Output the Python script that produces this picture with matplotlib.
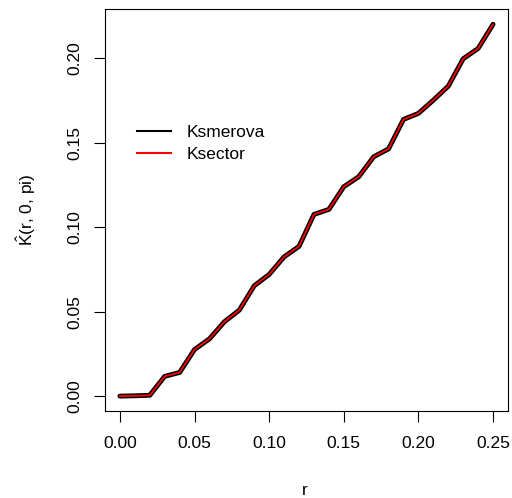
import matplotlib
matplotlib.use('Agg')
import matplotlib.pyplot as plt
from matplotlib.lines import Line2D
import numpy as np

plt.rcParams['font.family'] = ['Liberation Sans', 'DejaVu Sans']
plt.rcParams['mathtext.fontset'] = 'custom'
plt.rcParams['mathtext.rm'] = 'Liberation Sans'
plt.rcParams['mathtext.it'] = 'Liberation Sans'

# r values and estimated K(r, 0, pi)
r = np.round(np.arange(0, 0.2501, 0.01), 2)
k_smerova = [0.0, 0.0002, 0.0005, 0.0117, 0.014, 0.0276, 0.0339, 0.044, 0.0509,
             0.0653, 0.072, 0.0824, 0.0886, 0.1075, 0.1105, 0.1239, 0.1298,
             0.1416, 0.1463, 0.1637, 0.1673, 0.1751, 0.1834, 0.1996, 0.2057, 0.220]
k_sector = list(k_smerova)

xticks = [0.00, 0.05, 0.10, 0.15, 0.20, 0.25]
yticks = [0.00, 0.05, 0.10, 0.15, 0.20]

fig = plt.figure(figsize=(5.12, 4.98), dpi=100)
ax = fig.add_axes([105/512, 87/498, 403/512, 401.6/498])

ax.plot(r, k_smerova, color='black', lw=3.5, solid_capstyle='round', solid_joinstyle='round')
ax.plot(r, k_sector, color='red', lw=1.3, solid_joinstyle='round')

ax.set_xlim(-0.01, 0.26)
ax.set_ylim(-0.0088, 0.2288)
ax.set_xticks(xticks)
ax.set_xticklabels([f'{v:.2f}' for v in xticks])
ax.set_yticks(yticks)
ax.set_yticklabels([f'{v:.2f}' for v in yticks], rotation=90, va='center')
ax.tick_params(direction='out', length=8, width=0.8, labelsize=12.5)
ax.tick_params(axis='x', pad=10)
ax.tick_params(axis='y', pad=8)
for s in ax.spines.values():
    s.set_linewidth(0.8)

# axis titles placed like R's margin text
fig.text(305/512, 1 - 495/498, 'r', fontsize=12.5, ha='center', va='baseline')
fig.text(26/512, 1 - 210/498, r'$\hat{\mathrm{K}}$(r, 0, pi)', fontsize=12.5,
         rotation=90, ha='center', va='center')

handles = [Line2D([], [], color='black', lw=1.5), Line2D([], [], color='red', lw=1.5)]
ax.legend(handles, ['Ksmerova', 'Ksector'], loc='upper left',
          bbox_to_anchor=(0.04, 0.752), frameon=False, fontsize=12.5,
          handlelength=2.0, handletextpad=0.9, labelspacing=0.4)

fig.savefig('out.png', dpi=100, facecolor='white')
